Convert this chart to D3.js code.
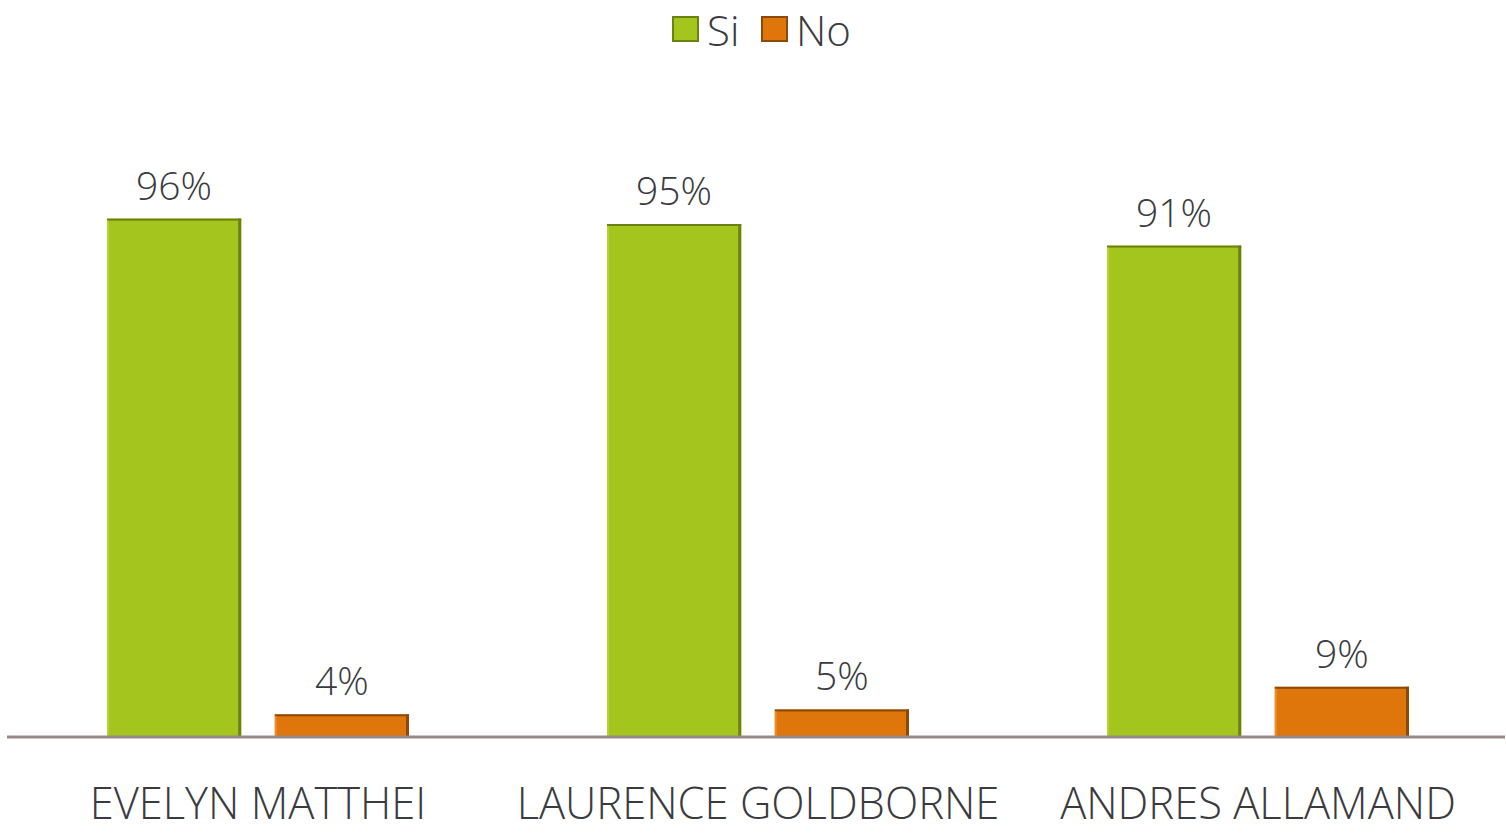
<!DOCTYPE html>
<html>
<head>
<meta charset="utf-8">
<script src="https://cdn.jsdelivr.net/npm/d3@7"></script>
<style>
  html, body { margin: 0; padding: 0; background: #fff; }
  text { font-family: "Open Sans", "DejaVu Sans", sans-serif; font-weight: 300; fill: #3b3b3f; }
</style>
</head>
<body>
<div id="vis"></div>
<script>
const candidates = ["EVELYN MATTHEI", "LAURENCE GOLDBORNE", "ANDRES ALLAMAND"];
const seriesNames = ["Si", "No"];
const siValues = [0.96, 0.95, 0.91];
const noValues = [0.042, 0.051, 0.093];

const CONFIG = {
    colors: {
        Si: { fill: "#A3C51D", dark: "#6A8210", light: "#B4D23A" },
        No: { fill: "#DF760C", dark: "#8C4A08", light: "#EE8C2A" }
    },
    dims: { w: 1506, h: 834, left: 8, right: 1508, base: 737, top: 197 }
};

const data = candidates.map((c, i) => ({ name: c, Si: siValues[i], No: noValues[i] }));

const svg = d3.select("#vis").append("svg")
    .attr("width", CONFIG.dims.w)
    .attr("height", CONFIG.dims.h);

const x0 = d3.scaleBand()
    .domain(candidates)
    .range([CONFIG.dims.left, CONFIG.dims.right])
    .paddingInner(0)
    .paddingOuter(0);

const x1 = d3.scaleBand()
    .domain(seriesNames)
    .range([99, 401])
    .paddingInner(0.2);

const y = d3.scaleLinear()
    .domain([0, 1])
    .range([CONFIG.dims.base, CONFIG.dims.top]);

const groups = svg.selectAll(".grp")
    .data(data)
    .join("g")
    .attr("class", "grp")
    .attr("transform", d => `translate(${x0(d.name)},0)`);

const bars = groups.selectAll(".bar")
    .data(d => seriesNames.map(s => ({ key: s, value: d[s] })))
    .join("g")
    .attr("class", "bar");

// main body
bars.append("rect")
    .attr("x", d => x1(d.key))
    .attr("y", d => y(d.value))
    .attr("width", x1.bandwidth())
    .attr("height", d => y(0) - y(d.value))
    .attr("fill", d => CONFIG.colors[d.key].fill);

// bevel: top edge
bars.append("rect")
    .attr("x", d => x1(d.key))
    .attr("y", d => y(d.value))
    .attr("width", x1.bandwidth())
    .attr("height", 2)
    .attr("fill", d => CONFIG.colors[d.key].dark);

// bevel: right edge
bars.append("rect")
    .attr("x", d => x1(d.key) + x1.bandwidth() - 3)
    .attr("y", d => y(d.value))
    .attr("width", 3)
    .attr("height", d => y(0) - y(d.value))
    .attr("fill", d => CONFIG.colors[d.key].dark);

// bevel: left highlight
bars.append("rect")
    .attr("x", d => x1(d.key))
    .attr("y", d => y(d.value) + 2)
    .attr("width", 2)
    .attr("height", d => Math.max(0, y(0) - y(d.value) - 2))
    .attr("fill", d => CONFIG.colors[d.key].light);

// value labels
bars.append("text")
    .attr("x", d => x1(d.key) + x1.bandwidth() / 2)
    .attr("y", d => y(d.value) - 19)
    .attr("text-anchor", "middle")
    .style("font-size", "39px")
    .text(d => Math.round(d.value * 100) + "%");

// baseline
svg.append("line")
    .attr("x1", 7)
    .attr("x2", 1505)
    .attr("y1", y(0))
    .attr("y2", y(0))
    .attr("stroke", "#978A86")
    .attr("stroke-width", 3);

// category labels
svg.append("g")
    .selectAll("text")
    .data(candidates)
    .join("text")
    .attr("x", d => x0(d) + x0.bandwidth() / 2)
    .attr("y", 819)
    .attr("text-anchor", "middle")
    .style("font-size", "43.5px")
    .text(d => d);

// legend
const legend = svg.append("g");
const legendItems = [
    { key: "Si", sx: 673, tx: 707 },
    { key: "No", sx: 762, tx: 796 }
];
legend.selectAll("rect.sw")
    .data(legendItems)
    .join("rect")
    .attr("class", "sw")
    .attr("x", d => d.sx)
    .attr("y", 17)
    .attr("width", 25)
    .attr("height", 24)
    .attr("fill", d => CONFIG.colors[d.key].fill)
    .attr("stroke", d => CONFIG.colors[d.key].dark)
    .attr("stroke-width", 2);
legend.selectAll("text")
    .data(legendItems)
    .join("text")
    .attr("x", d => d.tx)
    .attr("y", 46)
    .style("font-size", "42px")
    .text(d => d.key);
</script>
</body>
</html>
